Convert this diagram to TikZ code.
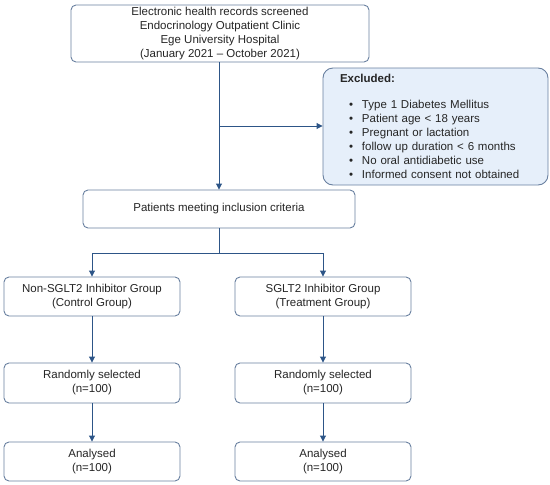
\documentclass[tikz,border=0pt]{standalone}
\usepackage{fontspec}
\setmainfont{Liberation Sans}
\usetikzlibrary{arrows.meta}
\definecolor{boxline}{RGB}{105,128,160}
\definecolor{arrowc}{RGB}{45,85,135}
\definecolor{exfill}{RGB}{230,239,250}
\tikzset{
  flowbox/.style={draw=boxline, line width=0.9pt, rounded corners=5pt, fill=white,
    align=center, inner sep=0pt, font=\fontsize{11.5}{14}\selectfont, text=black!85},
  conn/.style={draw=arrowc, line width=0.9pt},
  arr/.style={conn, -{Triangle[length=6pt,width=6pt]}}
}
\begin{document}
\begin{tikzpicture}[x=1pt,y=-1pt]
\useasboundingbox (0,0) rectangle (550,485);
\node[flowbox, minimum width=298pt, minimum height=57pt] (top) at (220,33.5)
  {Electronic health records screened\\Endocrinology Outpatient Clinic\\Ege University Hospital\\(January 2021 -- October 2021)};
\node[flowbox, rounded corners=10pt, fill=exfill, minimum width=225pt, minimum height=117pt,
  text width=191pt, inner xsep=17pt, align=left] (excl) at (435.5,126.5)
  {\textbf{Excluded:}\\[12pt]
   \hspace*{9pt}\makebox[13pt][l]{•}Type 1 Diabetes Mellitus\\
   \hspace*{9pt}\makebox[13pt][l]{•}Patient age {\textless} 18 years\\
   \hspace*{9pt}\makebox[13pt][l]{•}Pregnant or lactation\\
   \hspace*{9pt}\makebox[13pt][l]{•}follow up duration {\textless} 6 months\\
   \hspace*{9pt}\makebox[13pt][l]{•}No oral antidiabetic use\\
   \hspace*{9pt}\makebox[13pt][l]{•}Informed consent not obtained};
\node[flowbox, minimum width=272pt, minimum height=38pt] (pat) at (219,209)
  {Patients meeting inclusion criteria};
\node[flowbox, minimum width=176pt, minimum height=39pt] (gl) at (92,296.5)
  {Non-SGLT2 Inhibitor Group\\(Control Group)};
\node[flowbox, minimum width=176pt, minimum height=39pt] (gr) at (323,296.5)
  {SGLT2 Inhibitor Group\\(Treatment Group)};
\node[flowbox, minimum width=176pt, minimum height=40pt] (rl) at (92,383)
  {Randomly selected\\(n=100)};
\node[flowbox, minimum width=176pt, minimum height=40pt] (rr) at (323,383)
  {Randomly selected\\(n=100)};
\node[flowbox, minimum width=176pt, minimum height=39pt] (al) at (92,461.5)
  {Analysed\\(n=100)};
\node[flowbox, minimum width=176pt, minimum height=39pt] (ar) at (323,461.5)
  {Analysed\\(n=100)};
\coordinate (jx) at (219,126);
\coordinate (br) at (219,253);
\draw[arr] (top.south -| jx) -- (pat.north -| jx);
\draw[arr] (jx) -- (excl.west |- jx);
\draw[conn] (pat.south -| br) -- (br);
\draw[arr] (br) -| (gl.north);
\draw[arr] (br) -| (gr.north);
\draw[arr] (gl) -- (rl);
\draw[arr] (gr) -- (rr);
\draw[arr] (rl) -- (al);
\draw[arr] (rr) -- (ar);
\end{tikzpicture}
\end{document}
